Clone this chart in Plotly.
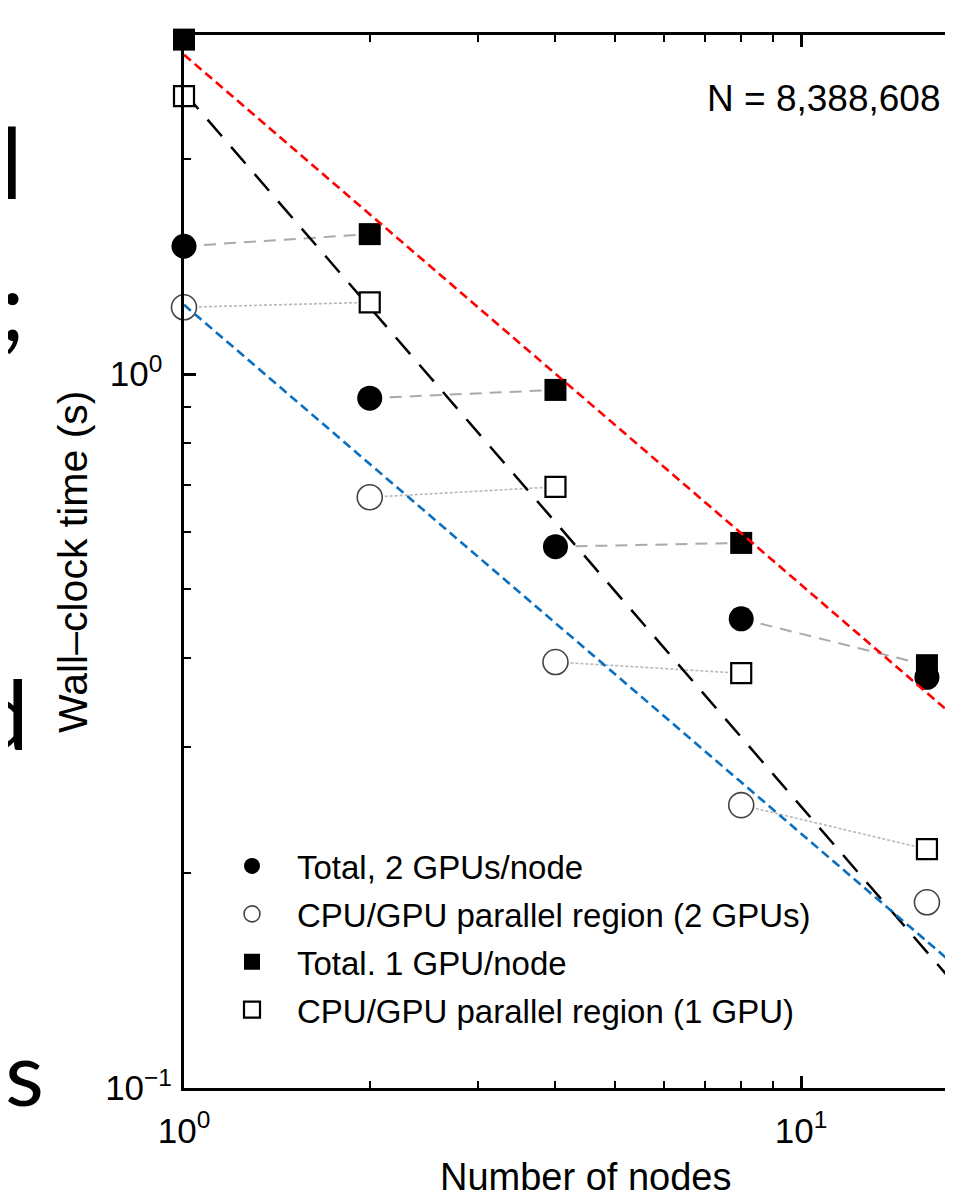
import plotly.graph_objects as go

# ---------------- data ----------------
nodes = [1, 2, 4, 8, 16]
total_2gpu = [1.51, 0.925, 0.573, 0.454, 0.376]
par_2gpu = [1.24, 0.672, 0.395, 0.249, 0.182]
total_1gpu = [2.94, 1.57, 0.95, 0.58, 0.391]
par_1gpu = [2.45, 1.26, 0.695, 0.381, 0.216]

ideal_x = [1, 20]
ideal_y = [2.48, 0.124]
red_x = [1, 20]
red_y = [2.80, 0.303]
blue_x = [1, 20]
blue_y = [1.25, 0.136]

x_tickvals = [1, 10]
x_ticktext = ["10<sup>0</sup>", "10<sup>1</sup>"]
y_tickvals = [0.1, 1]
y_ticktext = ["10<sup>−1</sup>", "10<sup>0</sup>\u00a0"]
x_minor = [2, 3, 4, 5, 6, 7, 8, 9]
y_minor = [0.2, 0.3, 0.4, 0.5, 0.6, 0.7, 0.8, 0.9, 2, 3]

legend_names = ["Total, 2 GPUs/node", "CPU/GPU parallel region (2 GPUs)",
                "Total. 1 GPU/node", "CPU/GPU parallel region (1 GPU)"]
annotation_n = "N = 8,388,608"
x_title = "Number of nodes"
y_title = "Wall\u2013clock time (s)"
slide_letters = ["M", ";", "d", "s"]

# ---------------- layout geometry ----------------
OFF = 8  # page body margin
W, H = 953 - OFF, 1196 - OFF
L, R, T, B = 184 - OFF, 0, 35 - OFF, 108
PW = W - L - R
PH = H - T - B


def px(x):
    """page pixel x -> paper fraction"""
    return (x - OFF - L) / PW


def py(y):
    """page pixel y -> paper fraction"""
    return (H - B - (y - OFF)) / PH


FONT = "Liberation Sans, Arial, Helvetica, sans-serif"

fig = go.Figure()

# connecting lines (same GPU count): circle at n -> square at 2n
cx, cy, ox, oy = [], [], [], []
for i in range(len(nodes) - 1):
    cx += [nodes[i], nodes[i + 1], None]
    cy += [total_2gpu[i], total_1gpu[i + 1], None]
    ox += [nodes[i], nodes[i + 1], None]
    oy += [par_2gpu[i], par_1gpu[i + 1], None]

fig.add_trace(go.Scatter(x=cx, y=cy, mode="lines", showlegend=False,
                         line=dict(color="#aaaaaa", width=2, dash="12px,8px"),
                         hoverinfo="skip"))
fig.add_trace(go.Scatter(x=ox, y=oy, mode="lines", showlegend=False,
                         line=dict(color="#b8b8b8", width=1.6, dash="3px,2px"),
                         hoverinfo="skip"))

# ideal scaling (black long dash)
fig.add_trace(go.Scatter(x=ideal_x, y=ideal_y, mode="lines", showlegend=False,
                         line=dict(color="black", width=2.5, dash="22px,14px")))

# markers
fig.add_trace(go.Scatter(x=nodes, y=total_2gpu, mode="markers", name=legend_names[0],
                         legendgroup="a", cliponaxis=False,
                         marker=dict(symbol="circle", size=25, color="black",
                                     line=dict(width=0))))
fig.add_trace(go.Scatter(x=nodes, y=par_2gpu, mode="markers", name=legend_names[1],
                         legendgroup="b", cliponaxis=False,
                         marker=dict(symbol="circle", size=25, color="white",
                                     line=dict(width=1.6, color="#444444"))))
fig.add_trace(go.Scatter(x=nodes, y=total_1gpu, mode="markers", name=legend_names[2],
                         legendgroup="c", cliponaxis=False,
                         marker=dict(symbol="square", size=22, color="black",
                                     line=dict(width=0))))
fig.add_trace(go.Scatter(x=nodes, y=par_1gpu, mode="markers", name=legend_names[3],
                         legendgroup="d", cliponaxis=False,
                         marker=dict(symbol="square", size=20, color="white",
                                     line=dict(width=2.2, color="black"))))

# red & blue reference lines
fig.add_trace(go.Scatter(x=red_x, y=red_y, mode="lines", showlegend=False,
                         line=dict(color="#ff0000", width=2.6, dash="9px,5px")))
fig.add_trace(go.Scatter(x=blue_x, y=blue_y, mode="lines", showlegend=False,
                         line=dict(color="#0a6fbf", width=2.6, dash="9px,5px")))

annotations = [
    dict(text=annotation_n, x=px(943), y=py(98), xref="paper", yref="paper",
         xanchor="right", yanchor="middle", showarrow=False,
         font=dict(family=FONT, size=37, color="black")),
    dict(text=x_title, x=px(586), y=py(1177), xref="paper", yref="paper",
         xanchor="center", yanchor="middle", showarrow=False,
         font=dict(family=FONT, size=38, color="black")),
    dict(text=y_title, x=px(73), y=py(562), xref="paper", yref="paper",
         xanchor="center", yanchor="middle", showarrow=False, textangle=-90,
         font=dict(family=FONT, size=41, color="black")),
]

# fragments of slide text at the left edge (page pixel right edge, centre y, size)
slide_pos = [(27, 160, 100), (27, 304, 96), (31, 712, 96), (46, 1071, 90)]
for letter, (xr, yc, fs) in zip(slide_letters, slide_pos):
    annotations.append(dict(text=letter, x=px(xr), y=py(yc), xref="paper", yref="paper",
                            xanchor="right", yanchor="middle", showarrow=False,
                            font=dict(family="Lato, Open Sans, sans-serif", size=fs,
                                      color="black")))

fig.update_layout(
    width=W, height=H,
    margin=dict(l=L, r=R, t=T, b=B, pad=0),
    paper_bgcolor="white", plot_bgcolor="white",
    font=dict(family=FONT, color="black"),
    annotations=annotations,
    legend=dict(x=px(207), y=py(838), xanchor="left", yanchor="top",
                bgcolor="rgba(0,0,0,0)", borderwidth=0,
                font=dict(family=FONT, size=33, color="black"),
                itemwidth=80, itemsizing="trace", traceorder="grouped",
                tracegroupgap=2),
    showlegend=True,
)

fig.update_xaxes(
    type="log", range=[0, PW / 617.0],
    showline=True, linewidth=3, linecolor="black", mirror="ticks",
    showgrid=False, zeroline=False,
    ticks="inside", ticklen=12, tickwidth=2.5, tickcolor="black",
    tickvals=x_tickvals, ticktext=x_ticktext,
    tickfont=dict(family=FONT, size=35, color="black"),
    ticklabelstandoff=10,
    minor=dict(ticks="inside", ticklen=7, tickwidth=2, tickcolor="black",
               tickvals=x_minor, showgrid=False),
)
fig.update_yaxes(
    type="log", range=[-1, 0.4748],
    showline=True, linewidth=3, linecolor="black", mirror=False,
    showgrid=False, zeroline=False,
    ticks="inside", ticklen=12, tickwidth=2.5, tickcolor="black",
    tickvals=y_tickvals, ticktext=y_ticktext,
    tickfont=dict(family=FONT, size=35, color="black"),
    ticklabelstandoff=2,
    minor=dict(ticks="inside", ticklen=7, tickwidth=2, tickcolor="black",
               tickvals=y_minor, showgrid=False),
)

fig.write_html("out.html")
